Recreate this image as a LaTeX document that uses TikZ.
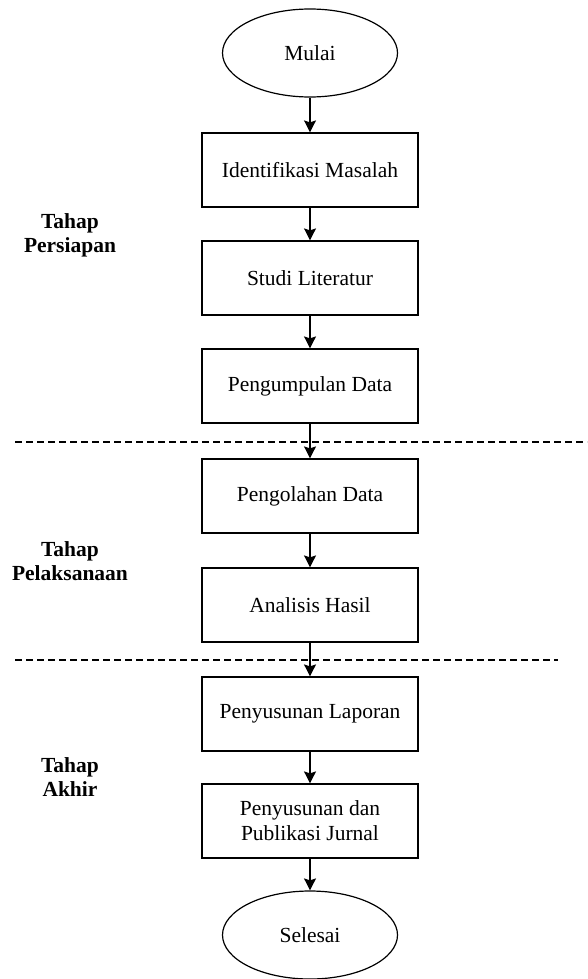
\documentclass[tikz,border=0pt]{standalone}
\usepackage{fontspec}
\setmainfont{Liberation Serif}
\usetikzlibrary{shapes.geometric, arrows.meta}

\tikzset{
  kotak/.style={draw, line width=1.2pt, minimum width=216pt, minimum height=74pt,
    inner sep=0pt, align=center, font=\fontsize{21.5}{25}\selectfont},
  elips/.style={draw, ellipse, line width=1.2pt, minimum width=175pt, minimum height=88pt,
    inner sep=0pt, font=\fontsize{21.5}{25}\selectfont},
  panah/.style={-{Stealth[length=12pt,width=12pt,inset=2pt]}, line width=1.3pt},
  batas/.style={dash pattern=on 7pt off 4pt, line width=1.2pt},
  tahap/.style={align=center, font=\bfseries\fontsize{21.5}{24}\selectfont}
}

\begin{document}
\begin{tikzpicture}[x=1pt, y=-1pt]
\useasboundingbox (0,0) rectangle (587,979);
% mulai
\node[elips] (mulai) at (310,53) {Mulai};
% tahap persiapan
\node[kotak] (identifikasi) at (310,170) {Identifikasi Masalah};
\node[kotak] (studi) at (310,278) {Studi Literatur};
\node[kotak] (pengumpulan) at (310,386) {Pengumpulan Data};
\node[tahap] (persiapan) at (70,235) {Tahap\\Persiapan};
% garis batas 1
\coordinate (b1kiri) at (15,442);
\coordinate (b1kanan) at (587,442);
\draw[batas] (b1kiri) -- (b1kanan);
% tahap pelaksanaan
\node[kotak] (pengolahan) at (310,496) {Pengolahan Data};
\node[kotak] (analisis) at (310,605) {Analisis Hasil};
\node[tahap] (pelaksanaan) at (70,561) {Tahap\\Pelaksanaan};
% garis batas 2
\coordinate (b2kiri) at (15,660);
\coordinate (b2kanan) at (558,660);
\draw[batas] (b2kiri) -- (b2kanan);
% tahap akhir
\node[kotak] (laporan) at (310,714) {Penyusunan Laporan};
\node[kotak] (jurnal) at (310,821) {Penyusunan dan\\Publikasi Jurnal};
\node[tahap] (akhir) at (70,777) {Tahap\\Akhir};
% selesai
\node[elips] (selesai) at (310,935) {Selesai};
% panah
\draw[panah] (mulai) -- (identifikasi);
\draw[panah] (identifikasi) -- (studi);
\draw[panah] (studi) -- (pengumpulan);
\draw[panah] (pengumpulan) -- (pengolahan);
\draw[panah] (pengolahan) -- (analisis);
\draw[panah] (analisis) -- (laporan);
\draw[panah] (laporan) -- (jurnal);
\draw[panah] (jurnal) -- (selesai);
\end{tikzpicture}
\end{document}
